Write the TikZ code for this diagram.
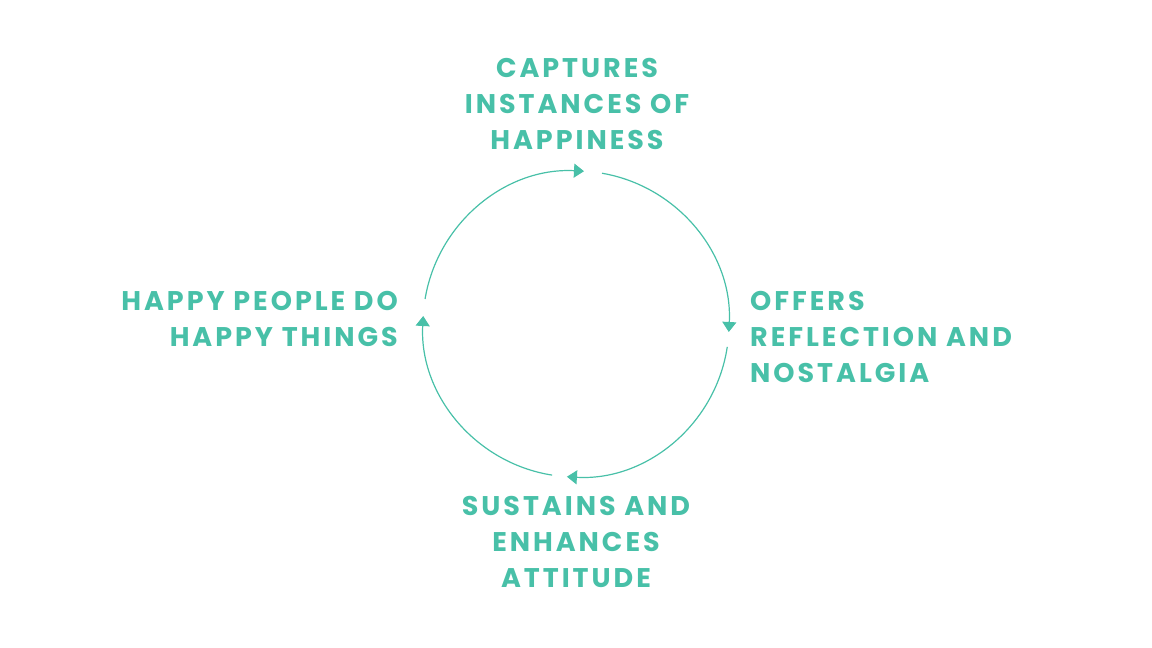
\documentclass[tikz,border=0pt]{standalone}
\usepackage{fontspec}
\setmainfont{Poppins}[UprightFont=* Bold, LetterSpace=11]
\usetikzlibrary{arrows.meta,calc}
\definecolor{teal}{RGB}{72,192,168}
\tikzset{
  lbl/.style={text=teal, font=\fontsize{27}{36}\selectfont, inner sep=0pt},
  cyc/.style={draw=teal, line width=1.2pt, -{Triangle[length=10pt,width=14pt]}}
}
\begin{document}
\begin{tikzpicture}[x=1pt,y=1pt]
\useasboundingbox (0,0) rectangle (1152,648);
\coordinate (c) at (576,324);
% labels
\node[lbl, align=center, anchor=north] (top) at (577,648-58) {CAPTURES\\INSTANCES OF\\HAPPINESS};
\node[lbl, align=left, anchor=north west] (right) at (750,648-291) {OFFERS\\REFLECTION AND\\NOSTALGIA};
\node[lbl, align=center, anchor=north] (bottom) at (576,648-496) {SUSTAINS AND\\ENHANCES\\ATTITUDE};
\node[lbl, align=right, anchor=north east] (left) at (398,648-291) {HAPPY PEOPLE DO\\HAPPY THINGS};
% circle start points
\coordinate (s1) at ($(c)+(170.6:153)$);
\coordinate (s2) at ($(c)+(80.2:153)$);
\coordinate (s3) at ($(c)+(-8.6:153)$);
\coordinate (s4) at ($(c)+(-99:153)$);
\draw[cyc] (s1) arc (170.6:87:153);
\draw[cyc] (s2) arc (80.2:-3:153);
\draw[cyc] (s3) arc (-8.6:-93.4:153);
\draw[cyc] (s4) arc (-99:-183:153);
\end{tikzpicture}
\end{document}
